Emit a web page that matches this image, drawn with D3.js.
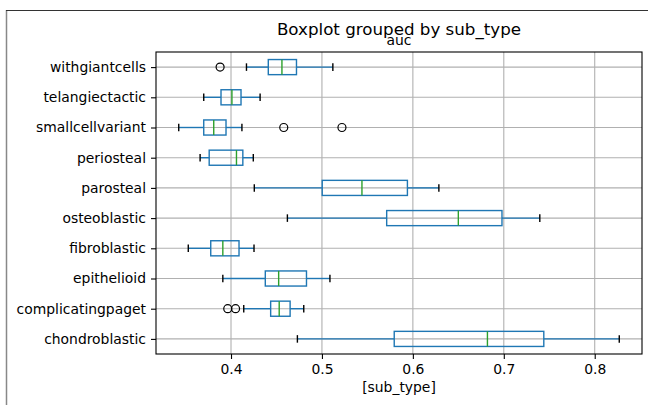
<!DOCTYPE html>
<html>
<head>
<meta charset="utf-8">
<script src="https://cdn.jsdelivr.net/npm/d3@7"></script>
<style>
  body { margin: 0; background: #fff; }
  text { font-family: "DejaVu Sans", sans-serif; fill: #000; }
</style>
</head>
<body>
<div id="vis"></div>
<script>
const FRAME_WIDTH = 648;
const FRAME_HEIGHT = 405;
const MARGINS = {left: 156, right: 6, top: 52, bottom: 51};

// data, listed bottom to top as matplotlib draws them
const categories = ["chondroblastic", "complicatingpaget", "epithelioid", "fibroblastic",
  "osteoblastic", "parosteal", "periosteal", "smallcellvariant", "telangiectactic", "withgiantcells"];
const whiskerLo = [0.473, 0.414, 0.391, 0.353, 0.462, 0.4256, 0.366, 0.3425, 0.370, 0.417];
const q1        = [0.5795, 0.4436, 0.4377, 0.3777, 0.5712, 0.5003, 0.376, 0.370, 0.389, 0.441];
const median    = [0.682, 0.453, 0.4524, 0.391, 0.650, 0.544, 0.406, 0.381, 0.401, 0.456];
const q3        = [0.744, 0.465, 0.483, 0.4088, 0.698, 0.594, 0.413, 0.3945, 0.411, 0.472];
const whiskerHi = [0.827, 0.480, 0.5088, 0.4253, 0.7396, 0.6286, 0.4245, 0.412, 0.432, 0.512];
const outliers  = [[], [0.3964, 0.405], [], [], [], [], [], [0.458, 0.522], [], [0.388]];
const xTicks = [0.4, 0.5, 0.6, 0.7, 0.8];

const VIS_WIDTH = FRAME_WIDTH - MARGINS.left - MARGINS.right;
const VIS_HEIGHT = FRAME_HEIGHT - MARGINS.top - MARGINS.bottom;

const FRAME = d3.select("#vis")
  .append("svg")
    .attr("width", FRAME_WIDTH)
    .attr("height", FRAME_HEIGHT);

// outer border of the screenshot
FRAME.append("line").attr("x1", 6.5).attr("x2", 6.5).attr("y1", 10).attr("y2", FRAME_HEIGHT)
  .attr("stroke", "#888").attr("stroke-width", 1.5);
FRAME.append("line").attr("x1", 6).attr("x2", FRAME_WIDTH).attr("y1", 10.5).attr("y2", 10.5)
  .attr("stroke", "#333").attr("stroke-width", 1.2);

const X_SCALE = d3.scaleLinear()
  .domain([0.3175, 0.852])
  .range([MARGINS.left, MARGINS.left + VIS_WIDTH]);

const Y_SCALE = d3.scaleLinear()
  .domain([0.5, categories.length + 0.5])
  .range([MARGINS.top + VIS_HEIGHT, MARGINS.top]);

const pos = (i) => Y_SCALE(i + 1);
const boxHalf = (Y_SCALE(0) - Y_SCALE(0.25));   // widths 0.5
const capHalf = (Y_SCALE(0) - Y_SCALE(0.125));

// grid
const grid = FRAME.append("g").attr("stroke", "#b0b0b0").attr("stroke-width", 1.1);
grid.selectAll("line.v").data(xTicks).enter().append("line")
  .attr("x1", d => X_SCALE(d)).attr("x2", d => X_SCALE(d))
  .attr("y1", MARGINS.top).attr("y2", MARGINS.top + VIS_HEIGHT);
grid.selectAll("line.h").data(categories).enter().append("line")
  .attr("x1", MARGINS.left).attr("x2", MARGINS.left + VIS_WIDTH)
  .attr("y1", (d, i) => pos(i)).attr("y2", (d, i) => pos(i));

const boxes = FRAME.append("g");
const blue = "#1f77b4";

categories.forEach((c, i) => {
  const y = pos(i);
  const g = boxes.append("g");
  // whiskers
  g.append("line").attr("x1", X_SCALE(whiskerLo[i])).attr("x2", X_SCALE(q1[i]))
    .attr("y1", y).attr("y2", y).attr("stroke", blue).attr("stroke-width", 1.4);
  g.append("line").attr("x1", X_SCALE(q3[i])).attr("x2", X_SCALE(whiskerHi[i]))
    .attr("y1", y).attr("y2", y).attr("stroke", blue).attr("stroke-width", 1.4);
  // caps
  [whiskerLo[i], whiskerHi[i]].forEach(v => {
    g.append("line").attr("x1", X_SCALE(v)).attr("x2", X_SCALE(v))
      .attr("y1", y - capHalf).attr("y2", y + capHalf)
      .attr("stroke", "#000").attr("stroke-width", 1.4);
  });
  // box
  g.append("rect")
    .attr("x", X_SCALE(q1[i])).attr("y", y - boxHalf)
    .attr("width", X_SCALE(q3[i]) - X_SCALE(q1[i])).attr("height", 2 * boxHalf)
    .attr("fill", "none").attr("stroke", blue).attr("stroke-width", 1.4);
  // median
  g.append("line").attr("x1", X_SCALE(median[i])).attr("x2", X_SCALE(median[i]))
    .attr("y1", y - boxHalf).attr("y2", y + boxHalf)
    .attr("stroke", "#2ca02c").attr("stroke-width", 1.4);
  // fliers
  g.selectAll("circle").data(outliers[i]).enter().append("circle")
    .attr("cx", d => X_SCALE(d)).attr("cy", y).attr("r", 4)
    .attr("fill", "none").attr("stroke", "#000").attr("stroke-width", 1.2);
});

// axes
FRAME.append("g")
  .attr("transform", "translate(0," + (MARGINS.top + VIS_HEIGHT) + ")")
  .call(d3.axisBottom(X_SCALE).tickValues(xTicks).tickFormat(d3.format(".1f"))
    .tickSizeInner(5).tickSizeOuter(0).tickPadding(5))
  .call(g => g.select(".domain").remove())
  .call(g => g.selectAll("text").attr("font-size", "13.9px").attr("font-family", "DejaVu Sans"))
  .call(g => g.selectAll("line").attr("stroke-width", 1.1));

FRAME.append("g")
  .attr("transform", "translate(" + MARGINS.left + ",0)")
  .call(d3.axisLeft(Y_SCALE).tickValues(d3.range(1, categories.length + 1))
    .tickFormat(d => categories[d - 1]).tickSizeInner(5).tickSizeOuter(0).tickPadding(5))
  .call(g => g.select(".domain").remove())
  .call(g => g.selectAll("text").attr("font-size", "13.9px").attr("font-family", "DejaVu Sans"))
  .call(g => g.selectAll("line").attr("stroke-width", 1.1));

// spines
FRAME.append("rect")
  .attr("x", MARGINS.left).attr("y", MARGINS.top)
  .attr("width", VIS_WIDTH).attr("height", VIS_HEIGHT)
  .attr("fill", "none").attr("stroke", "#000").attr("stroke-width", 1.1);

// titles
const cx = MARGINS.left + VIS_WIDTH / 2;
FRAME.append("text").attr("x", cx).attr("y", 35).attr("text-anchor", "middle")
  .attr("font-size", "16.7px").text("Boxplot grouped by sub_type");
FRAME.append("text").attr("x", cx).attr("y", 44.5).attr("text-anchor", "middle")
  .attr("font-size", "13.9px").text("auc");
FRAME.append("text").attr("x", cx).attr("y", 392).attr("text-anchor", "middle")
  .attr("font-size", "13.9px").text("[sub_type]");
</script>
</body>
</html>
